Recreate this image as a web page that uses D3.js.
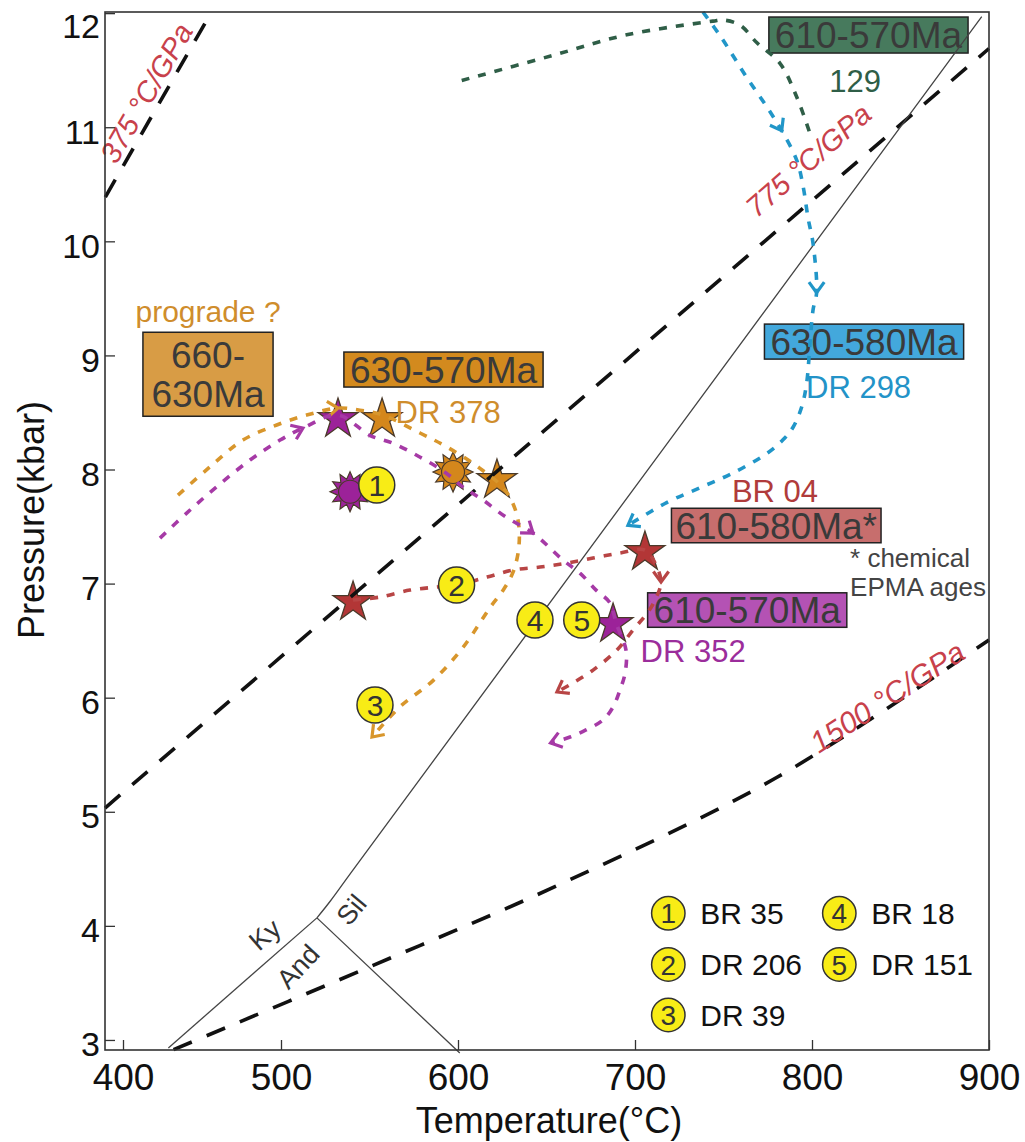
<!DOCTYPE html>
<html><head><meta charset="utf-8">
<script src="https://cdn.jsdelivr.net/npm/d3@7"></script>
<style>
body{margin:0;background:#fff}
svg{display:block;background:#fff}
text{font-family:"Liberation Sans",Arial,Helvetica,sans-serif}
</style>
</head><body>
<svg id="chart" width="1025" height="1142"></svg>
<script>
// ---------------- DATA ----------------
const xTicks = [400, 500, 600, 700, 800, 900];
const yTicks = [3, 4, 5, 6, 7, 8, 9, 10, 11, 12];

// geotherms (T °C, P kbar)
const geo375 = [[389.2, 10.388], [453.8, 11.957]];
const geo775 = [[389, 5.033], [900, 11.69]];
const geo1500 = [[432, 2.915], [548.6, 3.631], [659.3, 4.376], [780, 5.3], [900, 6.506]];

// Al2SiO5 phase boundaries
const kyAnd = [[428.7, 2.93], [520.3, 4.07]];
const andSil = [[520.3, 4.07], [601, 2.886]];
const kySil = [[520.3, 4.07], [528, 4.22], [540, 4.475], [895.9, 11.969]];

// P-T paths
const path129 = [[602.1, 11.41], [653.7, 11.63], [695.3, 11.81], [744, 11.93], [749.7, 11.94], [759.3, 11.895], [768.9, 11.74], [781.9, 11.56], [791.5, 11.26], [799.4, 10.92]];
const pathDR298 = [[738.4, 12.01], [748.6, 11.79], [763, 11.44], [774.4, 11.18], [782.9, 10.97], [791.4, 10.71], [795, 10.48], [797.7, 10.21], [800.6, 9.98], [802.6, 9.55], [800.6, 9.40], [798.9, 9.11], [797, 8.76], [794.2, 8.55], [789.3, 8.37], [783.6, 8.26], [774.4, 8.14], [755.4, 7.97], [736.7, 7.84], [717.9, 7.71], [696, 7.51]];
const pathDR378 = [[434.8, 7.776], [455.1, 8.024], [475.9, 8.258], [497.3, 8.39], [514.5, 8.477], [532.2, 8.538], [544.6, 8.52], [557.6, 8.477], [578.5, 8.32], [593.8, 8.197], [612.4, 8.01], [626.6, 7.82], [633.3, 7.60], [634.5, 7.34], [631.1, 7.10], [625.4, 6.94], [618.1, 6.79], [602.8, 6.44], [585.9, 6.15], [567.2, 5.92], [551.4, 5.655]];
const pathDR352 = [[423.4, 7.399], [440.3, 7.618], [459.3, 7.849], [480.4, 8.083], [499.4, 8.258], [512.4, 8.363], [532.2, 8.477], [550.1, 8.30], [563.3, 8.23], [578.4, 8.11], [593.2, 7.97], [602.8, 7.846], [614.1, 7.732], [627.1, 7.583], [642.4, 7.443], [659.3, 7.206], [668.9, 7.092], [678, 6.943], [685.9, 6.83], [689.3, 6.654], [694.9, 6.418], [694.4, 6.216], [691.5, 6.067], [687.6, 5.918], [681.9, 5.804], [672.3, 5.717], [663.3, 5.655], [652.3, 5.603]];
const pathBR04 = [[540.7, 6.856], [555.9, 6.882], [572.9, 6.943], [588.1, 6.97], [599.4, 6.987], [616.4, 7.057], [631.1, 7.119], [646.3, 7.145], [661.6, 7.18], [676.3, 7.224], [691.5, 7.268], [705.6, 7.294], [711.3, 7.18], [714.7, 7.014], [711.3, 6.856], [707.3, 6.75], [698.9, 6.593], [689.8, 6.418], [676.3, 6.242], [665, 6.13], [655.9, 6.05]];

// arrow positions (indices into each path)
const arrows129 = [];
const arrowsDR298 = [4, 9, 20];
const arrowsDR378 = [5, 20];
const arrowsDR352 = [5, 14, 27];
const arrowsBR04 = [13, 20];

// star symbols: [T, P, sample]
const stars = [[532.2, 8.46, "DR 352"], [557.1, 8.46, "DR 378"], [622, 7.925, "DR 378"], [540.7, 6.856, "BR 04"], [705.6, 7.294, "BR 04"], [687.6, 6.663, "DR 352"]];
// sun symbols: [T, P, sample]
const suns = [[539, 7.805, "DR 352"], [597.2, 7.978, "DR 378"]];

// numbered samples
const circleNums = [1, 2, 3, 4, 5];
const circleT = [554.1, 599.2, 553.1, 643.5, 669.9];
const circleP = [7.864, 6.988, 5.936, 6.681, 6.681];
const legendNames = ["BR 35", "DR 206", "DR 39", "BR 18", "DR 151"];

// ---------------- STYLE ----------------
const colors = {
  "129": "#2f5e47", "DR 298": "#2196c8", "DR 378": "#d8962c", "DR 352": "#a63aa6", "BR 04": "#b84545"
};
const symFill = { "DR 378": "#d4871c", "DR 352": "#9c2299", "BR 04": "#b33636" };

const svg = d3.select("#chart");
svg.append("rect").attr("width", 1025).attr("height", 1142).attr("fill", "#fff");

const x = d3.scaleLinear().domain([389, 400, 500, 900]).range([105, 123, 281, 989]);
const y = d3.scaleLinear().domain([2.912, 12.01]).range([1050, 12]);
const X0 = 105, X1 = 989, Y0 = 12, Y1 = 1050;

const straight = d3.line().x(d => x(d[0])).y(d => y(d[1]));
const smooth = d3.line().x(d => x(d[0])).y(d => y(d[1])).curve(d3.curveCatmullRom.alpha(0.5));

// ---------------- LABEL BOXES ----------------
const gBoxes = svg.append("g");
function box(lines, T, P, fill, size, lineH, padX, boxH) {
  const g = gBoxes.append("g");
  const cx = x(T), by = y(P);
  const texts = lines.map((t, i) => g.append("text").attr("x", cx).attr("y", by + i * lineH)
    .attr("text-anchor", "middle").attr("font-size", size).attr("fill", "#3a3a3a").text(t));
  const w = d3.max(texts, t => t.node().getComputedTextLength());
  const cap = 0.716 * size;
  const top = by - cap - (boxH - (lines.length - 1) * lineH - cap) / 2;
  g.insert("rect", "text").attr("x", cx - w / 2 - padX).attr("y", top)
    .attr("width", w + 2 * padX).attr("height", boxH)
    .attr("fill", fill).attr("stroke", "#222").attr("stroke-width", 1.5);
}
box(["610-570Ma"], 831.9, 11.692, "#477a5d", 37, 0, 6, 36);
box(["630-580Ma"], 829.4, 9.005, "#43a8dc", 37, 0, 6, 35);
box(["660-", "630Ma"], 453.8, 8.887, "#d89c45", 37, 38.4, 8.5, 84);
box(["630-570Ma"], 591.8, 8.76, "#d38a1e", 37, 0, 6, 35);
box(["610-580Ma*"], 779.8, 7.393, "#c76e6d", 37, 0, 4, 34.5);
box(["610-570Ma"], 763.4, 6.652, "#b452b4", 37, 0, 6, 34.5);

// ---------------- SYMBOLS (stars, suns) ----------------
const gSym = svg.append("g");
const starSym = d3.symbol().type(d3.symbolStar).size(21 * 21 / 0.8908130915292852);
gSym.selectAll("path.star").data(stars).join("path").attr("class", "star")
  .attr("transform", d => `translate(${x(d[0])},${y(d[1]) + 2})`)
  .attr("d", starSym).attr("fill", d => symFill[d[2]]).attr("stroke", "#4a3a2a").attr("stroke-width", 1.3);

function sunPath(rOut, rIn, n) {
  const pts = [];
  for (let i = 0; i < 2 * n; i++) {
    const a = Math.PI * i / n - Math.PI / 2;
    const r = i % 2 === 0 ? rOut : rIn;
    pts.push([Math.cos(a) * r, Math.sin(a) * r]);
  }
  return "M" + pts.map(p => p.join(",")).join("L") + "Z";
}
const sunG = gSym.selectAll("g.sun").data(suns).join("g").attr("class", "sun")
  .attr("transform", d => `translate(${x(d[0])},${y(d[1])})`);
sunG.append("path").attr("d", sunPath(20, 13, 12)).attr("fill", d => symFill[d[2]])
  .attr("stroke", "#4a3a2a").attr("stroke-width", 1.2);
sunG.append("circle").attr("r", 11.5).attr("fill", d => symFill[d[2]])
  .attr("stroke", "#4a3a2a").attr("stroke-width", 1.2);

// ---------------- GEOTHERMS ----------------
const gGeo = svg.append("g").attr("fill", "none").attr("stroke", "#111").attr("stroke-width", 3.6)
  .attr("stroke-dasharray", "20,16");
gGeo.append("path").attr("d", straight(geo375));
gGeo.append("path").attr("d", straight(geo775));
gGeo.append("path").attr("d", smooth(geo1500));

// ---------------- Al2SiO5 ----------------
const gAl = svg.append("g").attr("fill", "none").attr("stroke", "#444").attr("stroke-width", 1.3);
gAl.append("path").attr("d", straight(kyAnd));
gAl.append("path").attr("d", straight(andSil));
gAl.append("path").attr("d", smooth(kySil));

// ---------------- P-T PATHS ----------------
const gPaths = svg.append("g");
function chevron(px, i) {
  const [tx, ty] = px[i];
  let dx, dy;
  if (i < px.length - 1) { dx = px[i + 1][0] - px[i - 1][0]; dy = px[i + 1][1] - px[i - 1][1]; }
  else { dx = tx - px[i - 1][0]; dy = ty - px[i - 1][1]; }
  const L = Math.hypot(dx, dy); dx /= L; dy /= L;
  const len = 13, a = 36 * Math.PI / 180;
  const arm = s => [tx - len * (dx * Math.cos(s * a) - dy * Math.sin(s * a)), ty - len * (dx * Math.sin(s * a) + dy * Math.cos(s * a))];
  const p1 = arm(1), p2 = arm(-1);
  return `M${p1[0]},${p1[1]}L${tx},${ty}L${p2[0]},${p2[1]}`;
}
function ptPath(data, arrowIdx, color) {
  gPaths.append("path").attr("d", smooth(data)).attr("fill", "none").attr("stroke", color)
    .attr("stroke-width", 3.6).attr("stroke-dasharray", "8,9");
  const px = data.map(d => [x(d[0]), y(d[1])]);
  arrowIdx.forEach(i => gPaths.append("path").attr("d", chevron(px, i)).attr("fill", "none")
    .attr("stroke", color).attr("stroke-width", 3.2));
}
ptPath(path129, arrows129, colors["129"]);
ptPath(pathDR298, arrowsDR298, colors["DR 298"]);
ptPath(pathDR378, arrowsDR378, colors["DR 378"]);
ptPath(pathDR352, arrowsDR352, colors["DR 352"]);
ptPath(pathBR04, arrowsBR04, colors["BR 04"]);

// ---------------- NUMBERED CIRCLES ----------------
function numCircle(g, cx, cy, n, r, fs) {
  g.append("circle").attr("cx", cx).attr("cy", cy).attr("r", r).attr("fill", "#f8ec16")
    .attr("stroke", "#333").attr("stroke-width", 1.5);
  g.append("text").attr("x", cx).attr("y", cy).attr("dy", "0.36em").attr("text-anchor", "middle")
    .attr("font-size", fs).attr("fill", "#333").text(n);
}
const gCirc = svg.append("g");
circleNums.forEach((n, i) => numCircle(gCirc, x(circleT[i]), y(circleP[i]), n, 18, 30));

// ---------------- TEXT ANNOTATIONS ----------------
const gTxt = svg.append("g");
function note(t, T, P, size, color, opts = {}) {
  const e = gTxt.append("text").attr("font-size", size).attr("fill", color)
    .attr("text-anchor", opts.anchor || "middle")
    .attr("transform", `translate(${x(T)},${y(P)}) rotate(${opts.rot || 0})`).text(t);
  if (opts.italic) e.attr("font-style", "italic");
  if (opts.central) e.attr("dominant-baseline", "central");
  return e;
}
note("129", 824.3, 11.309, 31, "#2f5e47");
note("DR 298", 826.3, 8.627, 31, "#2393c8");
note("prograde ?", 453.8, 9.295, 30, "#cf8d2c");
note("DR 378", 594.4, 8.408, 31, "#cf8d2c");
note("BR 04", 779.1, 7.718, 31, "#b03b3b");
note("* chemical", 821.5, 7.145, 26, "#444", { anchor: "start" });
note("EPMA ages", 821.5, 6.891, 26, "#444", { anchor: "start" });
note("DR 352", 732.8, 6.315, 31, "#9b2d9b");

note("375 °C/GPa", 420.3, 11.256, 29, "#c8414b", { rot: -60, italic: true });
note("775 °C/GPa", 801.7, 10.643, 29, "#c8414b", { rot: -41, italic: true });
note("1500 °C/GPa", 845.8, 5.93, 30, "#c8414b", { rot: -33, italic: true });

note("Ky", 489.9, 3.92, 27, "#333", { rot: -41, central: true });
note("And", 509.8, 3.642, 27, "#333", { rot: -47, central: true });
note("Sil", 539.9, 4.139, 27, "#333", { rot: -50, central: true });

// ---------------- LEGEND ----------------
const gLeg = svg.append("g");
const legColX = [668.3, 839.3], legRowY = [913.3, 964.5, 1015];
circleNums.forEach((n, i) => {
  const c = i < 3 ? 0 : 1, r = i < 3 ? i : i - 3;
  const cx = legColX[c], cy = legRowY[r];
  numCircle(gLeg, cx, cy, n, 16.7, 28);
  gLeg.append("text").attr("x", cx + 32).attr("y", cy + 10.5).attr("font-size", 30)
    .attr("fill", "#111").text(legendNames[i]);
});

// ---------------- AXES ----------------
const gx = svg.append("g").attr("transform", `translate(0,${Y1})`)
  .call(d3.axisBottom(x).tickValues(xTicks).tickSizeInner(-10).tickSizeOuter(0));
gx.select(".domain").remove();
gx.selectAll(".tick line").attr("stroke", "#333").attr("stroke-width", 1.3);
gx.selectAll(".tick text").attr("y", 40).attr("dy", null).attr("font-size", 37)
  .attr("fill", "#111").attr("font-family", "Liberation Sans, Arial, sans-serif");

const gy = svg.append("g").attr("transform", `translate(${X0},0)`)
  .call(d3.axisLeft(y).tickValues(yTicks).tickSizeInner(-10).tickSizeOuter(0).tickPadding(5));
gy.select(".domain").remove();
gy.selectAll(".tick line").attr("stroke", "#333").attr("stroke-width", 1.3);
gy.selectAll(".tick text").attr("dy", null).attr("y", d => d === 12 ? 24 : 16).attr("font-size", 34)
  .attr("fill", "#111").attr("font-family", "Liberation Sans, Arial, sans-serif");

svg.append("rect").attr("x", X0).attr("y", Y0).attr("width", X1 - X0).attr("height", Y1 - Y0)
  .attr("fill", "none").attr("stroke", "#333").attr("stroke-width", 1.6);

svg.append("text").attr("x", 549).attr("y", 1133).attr("text-anchor", "middle").attr("font-size", 36)
  .attr("fill", "#111").text("Temperature(°C)");
svg.append("text").attr("transform", "translate(44,520) rotate(-90)").attr("text-anchor", "middle")
  .attr("font-size", 36).attr("fill", "#111").text("Pressure(kbar)");
</script>
</body></html>
